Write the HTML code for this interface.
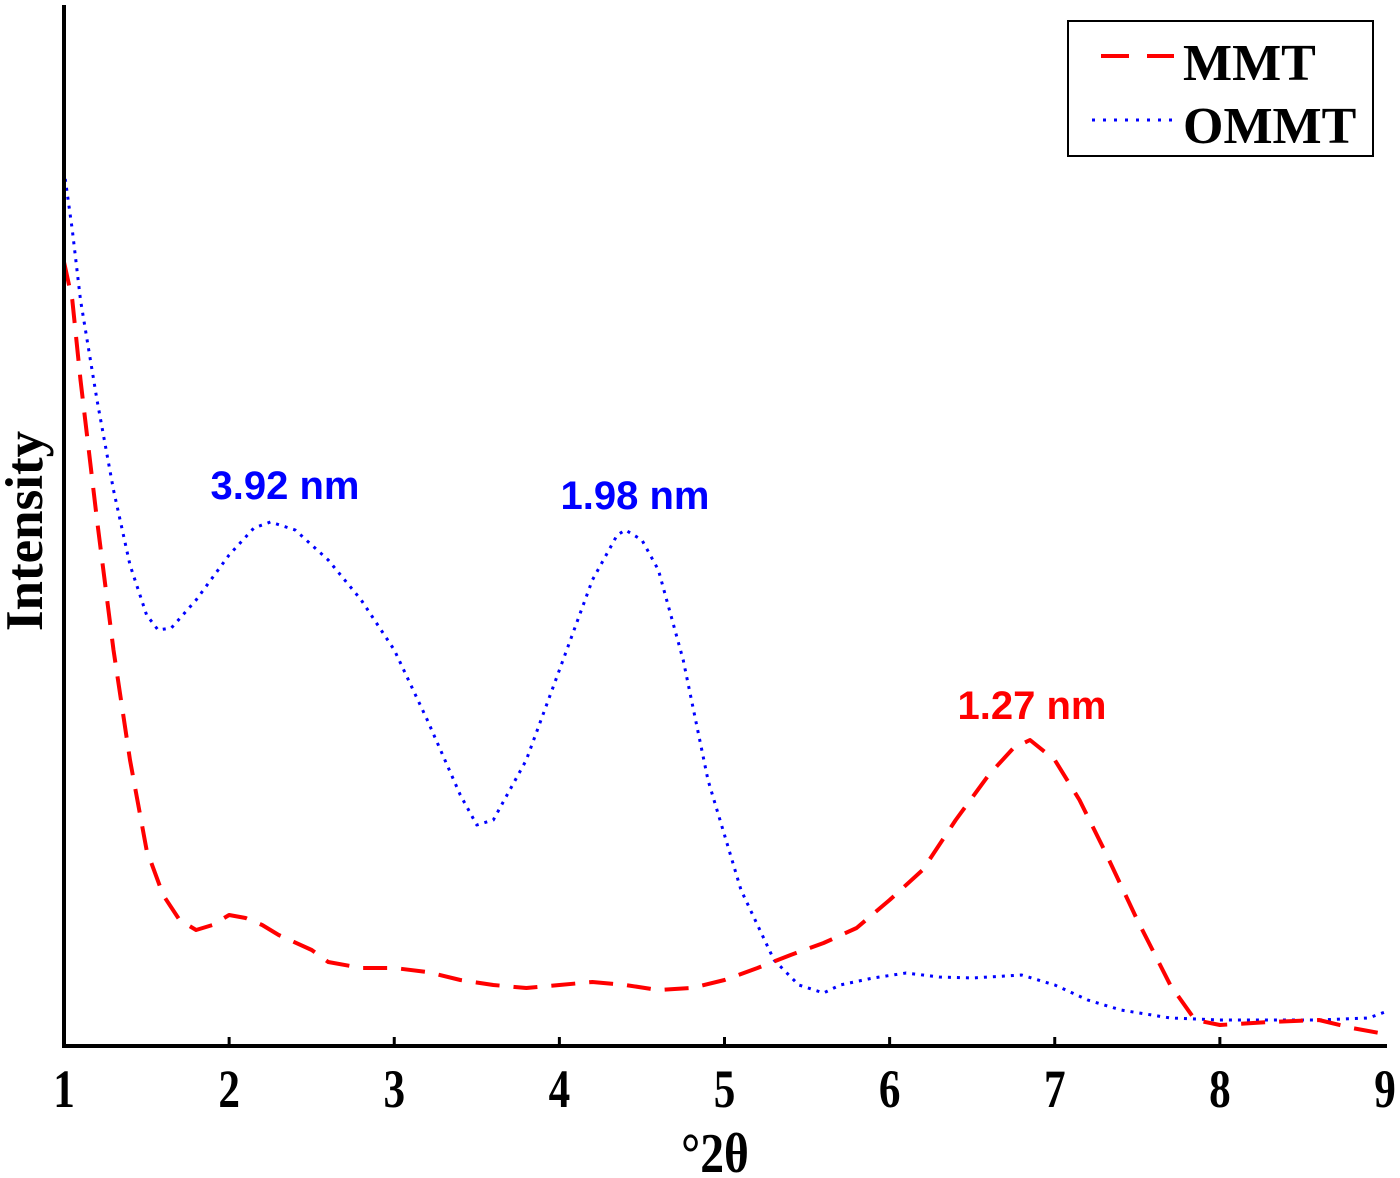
<!DOCTYPE html>
<html><head><meta charset="utf-8"><style>
html,body{margin:0;padding:0;background:#fff}
svg{display:block}
</style></head><body>
<svg id="chart" width="1400" height="1178" viewBox="0 0 1400 1178" xmlns="http://www.w3.org/2000/svg">
<g id="plot"></g>
<line x1="64" y1="5" x2="64" y2="1047" stroke="#000" stroke-width="4"/>
<line x1="62" y1="1046" x2="1387" y2="1046" stroke="#000" stroke-width="4"/>
<g id="ticks"></g>
<text transform="translate(42,531) rotate(-90)" text-anchor="middle" font-family="Liberation Serif, serif" font-weight="bold" font-size="53">Intensity</text>
<text transform="translate(715,1172) scale(0.85,1)" text-anchor="middle" font-family="Liberation Serif, serif" font-weight="bold" font-size="56">°2θ</text>
<text x="285" y="499" text-anchor="middle" font-family="Liberation Sans, sans-serif" font-weight="bold" font-size="40" fill="#0000ff">3.92 nm</text>
<text x="635" y="509" text-anchor="middle" font-family="Liberation Sans, sans-serif" font-weight="bold" font-size="40" fill="#0000ff">1.98 nm</text>
<text x="1032" y="719" text-anchor="middle" font-family="Liberation Sans, sans-serif" font-weight="bold" font-size="40" fill="#ff0000">1.27 nm</text>
<g>
<rect x="1068" y="21" width="305" height="135" fill="#fff" stroke="#000" stroke-width="2"/>
<line x1="1101" y1="56" x2="1174" y2="56" stroke="#ff0000" stroke-width="4" stroke-dasharray="28,18"/>
<text x="1183" y="80" font-family="Liberation Serif, serif" font-weight="bold" font-size="52">MMT</text>
<line x1="1092" y1="120" x2="1174" y2="120" stroke="#0000ff" stroke-width="3" stroke-dasharray="3,8"/>
<text x="1183" y="143" font-family="Liberation Serif, serif" font-weight="bold" font-size="52">OMMT</text>
</g>
</svg>
<script>
const mmtX=[1.0,1.05,1.1,1.2,1.3,1.4,1.5,1.6,1.7,1.8,1.9,2.0,2.1,2.2,2.3,2.5,2.6,2.8,3.0,3.2,3.4,3.6,3.8,4.0,4.2,4.4,4.6,4.8,5.0,5.2,5.4,5.6,5.8,6.0,6.2,6.4,6.6,6.75,6.85,7.0,7.15,7.3,7.5,7.7,7.85,8.0,8.3,8.6,8.8,9.0];
const mmtY=[78.4,74.6,66.6,52.6,39.6,28.6,19.6,15.1,12.6,11.6,12.1,13.1,12.8,12.1,11.1,9.6,8.4,7.8,7.8,7.4,6.6,6.1,5.8,6.1,6.4,6.1,5.6,5.8,6.6,7.8,9.1,10.3,11.8,14.6,17.6,22.6,27.1,29.8,30.6,28.6,24.6,19.6,12.6,6.1,2.6,2.1,2.4,2.6,1.8,1.2];
const ommtX=[1.0,1.05,1.1,1.2,1.3,1.4,1.5,1.57,1.65,1.8,2.0,2.15,2.25,2.4,2.6,2.8,3.0,3.2,3.4,3.5,3.6,3.8,4.0,4.2,4.35,4.4,4.5,4.6,4.75,4.9,5.1,5.3,5.45,5.6,5.7,5.9,6.1,6.3,6.5,6.8,7.0,7.2,7.4,7.7,8.0,8.3,8.6,8.9,9.0];
const ommtY=[87.6,81.6,74.6,64.6,55.6,48.1,43.1,41.6,41.8,44.6,49.1,51.8,52.4,51.6,48.6,44.6,39.6,32.6,25.1,22.1,22.6,28.6,37.6,46.6,51.1,51.6,50.6,47.6,38.6,26.6,15.6,8.6,6.1,5.3,6.1,6.8,7.3,6.9,6.8,7.1,6.1,4.6,3.6,2.8,2.6,2.6,2.6,2.8,3.4];
const tickLabels=["1","2","3","4","5","6","7","8","9"];
const NS="http://www.w3.org/2000/svg";
const xs=v=>64+(v-1)*(1385-64)/8;
const ys=v=>1046-v*10;
const plot=document.getElementById('plot');
function series(X,Y,color,dash,w,name){
  const p=document.createElementNS(NS,'path');
  p.setAttribute('d',X.map((x,i)=>(i?'L':'M')+xs(x).toFixed(1)+','+ys(Y[i]).toFixed(1)).join(''));
  p.setAttribute('fill','none');p.setAttribute('stroke',color);
  p.setAttribute('stroke-width',w);p.setAttribute('stroke-dasharray',dash);
  p.setAttribute('stroke-linejoin','round');
  
  
  plot.appendChild(p);
}
series(ommtX,ommtY,'#0000ff','3,6',3,'ommt-line');
series(mmtX,mmtY,'#ff0000','24,14',4,'mmt-line');
const tg=document.getElementById('ticks');
tickLabels.forEach((t,i)=>{
  const v=+t;
  if(i>0&&i<tickLabels.length-1){
    const l=document.createElementNS(NS,'line');
    l.setAttribute('x1',xs(v));l.setAttribute('x2',xs(v));
    l.setAttribute('y1',1037);l.setAttribute('y2',1046);
    l.setAttribute('stroke','#000');l.setAttribute('stroke-width',3);
    
    
    tg.appendChild(l);
  }
  const tx=document.createElementNS(NS,'text');
  tx.setAttribute('transform','translate('+xs(v)+',1107) scale(0.8,1)');
  tx.setAttribute('text-anchor','middle');
  tx.setAttribute('font-family','Liberation Serif, serif');
  tx.setAttribute('font-weight','bold');tx.setAttribute('font-size','54');
  tx.textContent=t;
  
  
  tg.appendChild(tx);
});
</script>
</body></html>
